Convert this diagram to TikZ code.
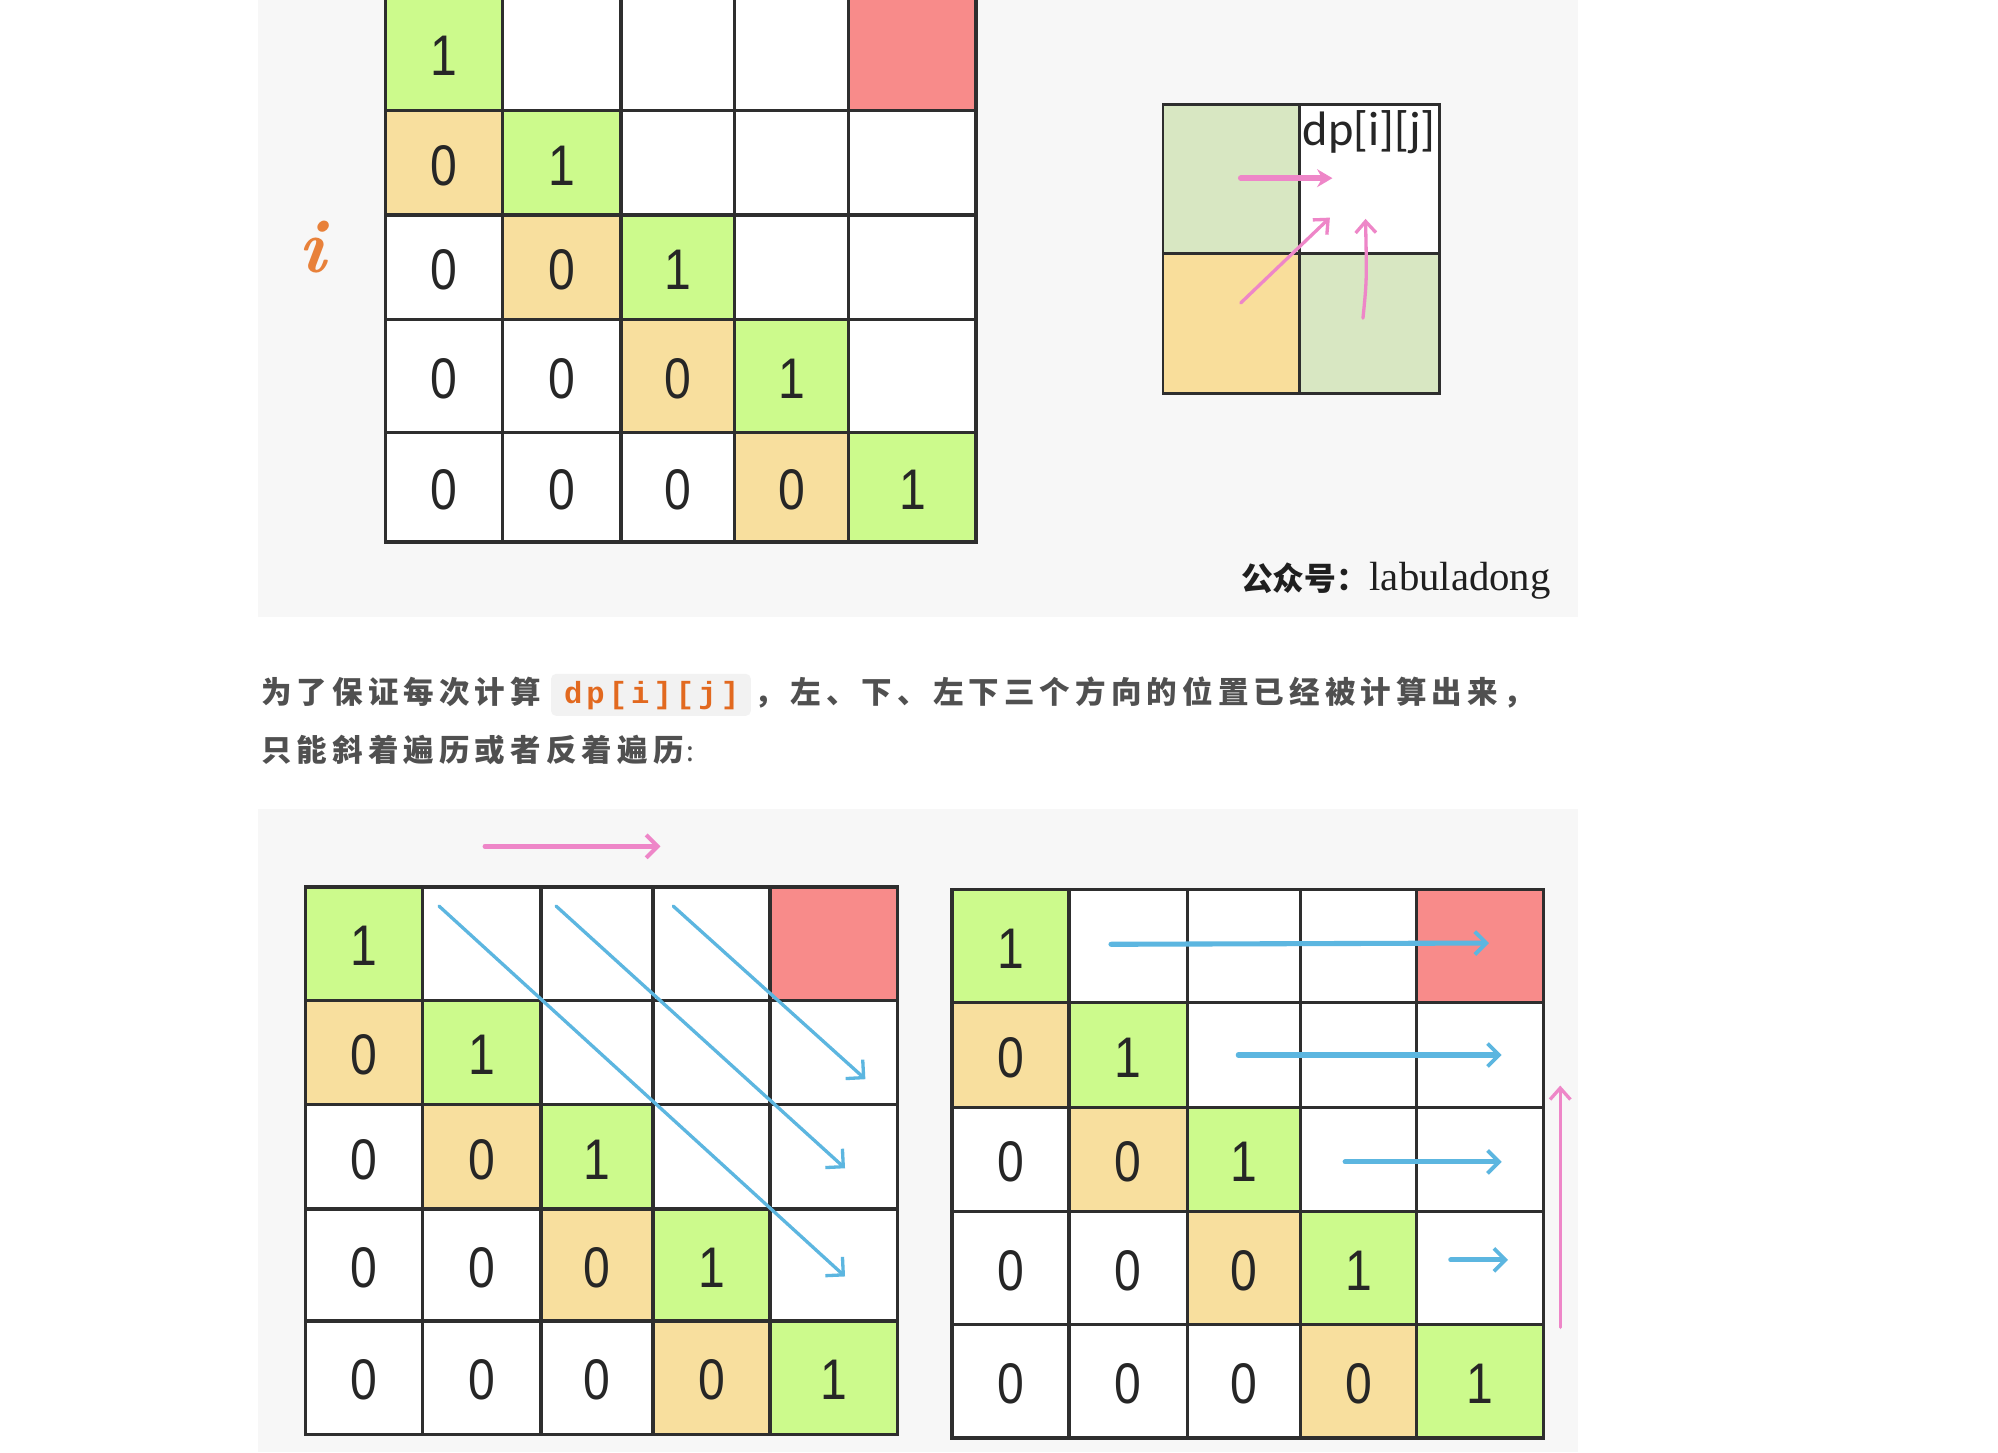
\documentclass[tikz,border=0pt]{standalone}
\usepackage{fontspec}
\usepackage{graphicx}
\usetikzlibrary{arrows.meta}
\newfontfamily\digitfont{Liberation Sans}
\newfontfamily\cjkfont{Noto Sans CJK SC}
\newfontfamily\codefont{Liberation Mono}
\newfontfamily\dpfont{Carlito}
\newfontfamily\serifen{Liberation Serif}
\definecolor{cgreen}{HTML}{CCFA8C}
\definecolor{cyellow}{HTML}{F8DF9E}
\definecolor{cred}{HTML}{F88B8A}
\definecolor{pgreen}{HTML}{D8E7C2}
\definecolor{pyellow}{HTML}{F9DE9B}
\definecolor{cpink}{HTML}{EE86C8}
\definecolor{cblue}{HTML}{5CB6E0}
\definecolor{panelbg}{HTML}{F7F7F7}
\definecolor{ctext}{HTML}{505050}
\definecolor{ccode}{HTML}{E2691F}
\definecolor{codebg}{HTML}{F2F2F2}
\definecolor{iorange}{HTML}{E8813A}
\definecolor{gridline}{HTML}{2E2E2E}
\newdimen\lspk
\def\lspEnd{LSPEND}
\def\lsp#1{\lspA#1\lspEnd}
\def\lspA#1{#1\lspB}
\def\lspB#1{\ifx#1\lspEnd\else\kern\lspk#1\expandafter\lspB\fi}
\newcommand\dpgrid[3]{%
  \foreach \r in {0,...,4}{%
    \foreach \c in {0,...,4}{%
      \pgfmathsetmacro\xl{{#2}[\c]}%
      \pgfmathsetmacro\xr{{#2}[\c+1]}%
      \pgfmathsetmacro\yt{{#3}[\r]}%
      \pgfmathsetmacro\yb{{#3}[\r+1]}%
      \ifnum\c=\r
        \def\cellfill{cgreen}\def\celltxt{1}%
      \else
        \ifnum\c<\r
          \def\celltxt{0}%
          \ifnum\numexpr\r-\c\relax=1 \def\cellfill{cyellow}\else\def\cellfill{white}\fi
        \else
          \def\celltxt{}%
          \def\cellfill{white}%
          \ifnum\r=0 \ifnum\c=4 \def\cellfill{cred}\fi\fi
        \fi
      \fi
      \fill[\cellfill] (\xl,\yt) rectangle (\xr,\yb);
      \node[digit] (#1-\r-\c) at ({(\xl+\xr)/2},{(\yt+\yb)/2+2}) {\scalebox{0.84}[1]{\celltxt}};
    }%
  }%
  \pgfmathsetmacro\ya{{#3}[0]}%
  \pgfmathsetmacro\yz{{#3}[5]}%
  \pgfmathsetmacro\xa{{#2}[0]}%
  \pgfmathsetmacro\xz{{#2}[5]}%
  \foreach \i in {0,...,5}{%
    \pgfmathsetmacro\xx{{#2}[\i]}%
    \pgfmathsetmacro\yy{{#3}[\i]}%
    \draw[gridl] (\xx,\ya) -- (\xx,\yz);
    \draw[gridl] (\xa,\yy) -- (\xz,\yy);
  }%
}
\begin{document}
\begin{tikzpicture}[x=1pt,y=-1pt,
  digit/.style={font=\digitfont\fontsize{45}{45}\selectfont, inner sep=0pt, text=black!85},
  gridl/.style={line width=2.6pt, draw=gridline, line cap=rect},
  bluearrow/.style={draw=cblue, line width=2.6pt, line cap=round, -{Straight Barb[length=10pt,width=20pt,line width=2.6pt]}},
  bluethick/.style={draw=cblue, line width=4pt, line cap=round, -{Straight Barb[length=9pt,width=18pt,line width=3pt]}},
  pinkarrow/.style={draw=cpink, line width=2.6pt, line cap=round, -{Straight Barb[length=9pt,width=16pt,line width=2.6pt]}},
  pinkwide/.style={draw=cpink, line width=3.6pt, line cap=round, -{Straight Barb[length=9pt,width=18pt,line width=3.2pt]}},
  pinkthick/.style={draw=cpink, line width=4.5pt, line cap=round, -{Stealth[length=12pt,width=14pt]}},
  cjktext/.style={font=\cjkfont\bfseries\fontsize{24}{24}\selectfont, text=ctext, inner sep=0pt, anchor=base west}
]
\useasboundingbox (0,0) rectangle (1570,1141);
\fill[white] (0,0) rectangle (1570,1141);
% panels
\fill[panelbg] (203,0) rectangle (1240,485);
\fill[panelbg] (203,636) rectangle (1240,1141);

% top grid
\dpgrid{T}{303,395,488,577,667,767}{-3,87,169,251,340,426}
\node[font=\bfseries\itshape\fontsize{60}{60}\selectfont, text=iorange, inner sep=0pt] (ilabel) at (245,194) {i};

% small box
\fill[pgreen] (914,82) rectangle (1021,199);
\fill[white] (1021,82) rectangle (1131,199);
\fill[pyellow] (914,199) rectangle (1021,309);
\fill[pgreen] (1021,199) rectangle (1131,309);
\draw[line width=2pt, draw=gridline] (914,82) rectangle (1131,309);
\draw[line width=2pt, draw=gridline] (1021,82) -- (1021,309);
\draw[line width=2pt, draw=gridline] (914,199) -- (1131,199);
\node[font=\dpfont\fontsize{38}{38}\selectfont, inner sep=0pt, text=black!85] (dplabel) at (1076,104) {dp[i][j]};
\coordinate (ka1) at (975,140); \coordinate (ka2) at (1047,140);
\coordinate (kb1) at (975,238); \coordinate (kb2) at (1045,171);
\coordinate (kc1) at (1071,250); \coordinate (kc2) at (1073,172);
\draw[pinkthick] (ka1) -- (ka2);
\draw[pinkarrow] (kb1) -- (kb2);
\draw[pinkarrow] (kc1) .. controls (1074,220) .. (kc2);

\node[inner sep=0pt, anchor=base west, text=black!88] (brand) at (975,464)
  {{\cjkfont\bfseries\fontsize{25}{25}\selectfont 公众号：}\kern1pt{\serifen\fontsize{32}{32}\selectfont labuladong}};

% text lines
\lspk=4pt
\node[cjktext] (t1) at (205,553) {\lsp{为了保证每次计算}};
\node[fill=codebg, rounded corners=4pt, minimum width=157pt, minimum height=33pt, inner sep=0pt] (code) at (511.5,546) {};
\node[font=\codefont\bfseries\fontsize{24}{24}\selectfont, text=ccode, inner sep=0pt, anchor=base] (codetxt) at (512,553) {\lspk=3.2pt\lsp{dp[i][j]}};
\node[cjktext] (t2) at (593,553) {\lsp{，左、下、左下三个方向的位置已经被计算出来，}};
\node[cjktext] (t3) at (205,598) {\lsp{只能斜着遍历或者反着遍历}\kern2pt{\fontsize{22}{22}\selectfont\mdseries:}};

% bottom grids
\dpgrid{L}{240,332,425,513,605,705}{697,786,868,950,1038,1127}
\dpgrid{R}{748,840,933,1022,1113,1213}{699,788,870,952,1041,1130}

% bottom-left arrows
\coordinate (pa1) at (381,665); \coordinate (pa2) at (519,665);
\draw[pinkwide] (pa1) -- (pa2);
\coordinate (d1s) at (345,712); \coordinate (d1e) at (664,1003);
\coordinate (d2s) at (437,712); \coordinate (d2e) at (664,918);
\coordinate (d3s) at (529,712); \coordinate (d3e) at (680,848);
\draw[bluearrow] (d1s) -- (d1e);
\draw[bluearrow] (d2s) -- (d2e);
\draw[bluearrow] (d3s) -- (d3e);

% bottom-right arrows
\coordinate (h1s) at (873,742); \coordinate (h1e) at (1170,741);
\coordinate (h2s) at (973,829); \coordinate (h2e) at (1180,829);
\coordinate (h3s) at (1057,913); \coordinate (h3e) at (1180,913);
\coordinate (h4s) at (1140,990); \coordinate (h4e) at (1185,990);
\draw[bluethick] (h1s) -- (h1e);
\draw[bluethick] (h2s) -- (h2e);
\draw[bluethick] (h3s) -- (h3e);
\draw[bluethick] (h4s) -- (h4e);
\coordinate (vs) at (1226,1043); \coordinate (ve) at (1226,853);
\draw[pinkarrow] (vs) -- (ve);
\end{tikzpicture}
\end{document}
